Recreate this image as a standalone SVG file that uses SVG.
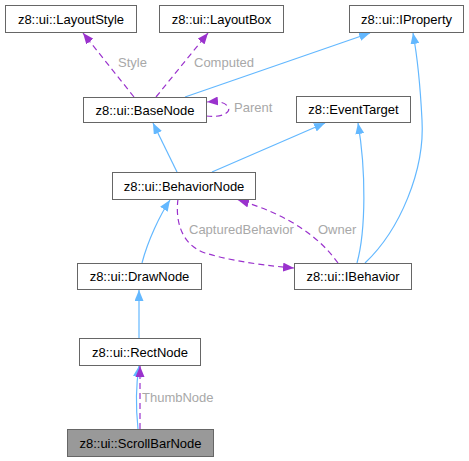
<svg xmlns="http://www.w3.org/2000/svg" width="469" height="461" viewBox="0 0 469 461">
<style>
.node rect{fill:#ffffff;stroke:#666666;stroke-width:1}
.node text{font-family:"Liberation Sans",Arial,sans-serif;font-size:13px;fill:#000000;text-anchor:middle}
.inh{fill:none;stroke:#63b8ff;stroke-width:1.2}
.use{fill:none;stroke:#9a32cd;stroke-width:1.2;stroke-dasharray:6,4}
.lbl{font-family:"Liberation Sans",Arial,sans-serif;font-size:13px;fill:#a8a8a8}
</style>
<defs>
<marker id="ab" viewBox="0 0 11 9" refX="11" refY="4.5" markerWidth="11" markerHeight="9" markerUnits="userSpaceOnUse" orient="auto"><path d="M0,0 L11,4.5 L0,9 z" fill="#63b8ff"/></marker>
<marker id="ap" viewBox="0 0 11 9" refX="11" refY="4.5" markerWidth="11" markerHeight="9" markerUnits="userSpaceOnUse" orient="auto"><path d="M0,0 L11,4.5 L0,9 z" fill="#9a32cd"/></marker>
</defs>
<rect width="469" height="461" fill="#ffffff"/>
<g id="edges">
<path class="use" d="M134,97 L83,33" marker-end="url(#ap)"/>
<text class="lbl" x="118" y="67">Style</text>
<path class="use" d="M156,97 L208,33" marker-end="url(#ap)"/>
<text class="lbl" x="194" y="67">Computed</text>
<path class="inh" d="M185,97 L370,33" marker-end="url(#ab)"/>
<path class="use" d="M206,116 C220,118 232,113 228,107 C225,102 218,101 207,102" marker-end="url(#ap)"/>
<text class="lbl" x="234" y="112">Parent</text>
<path class="inh" d="M177,172 L153,123" marker-end="url(#ab)"/>
<path class="inh" d="M212,172 L325,123" marker-end="url(#ab)"/>
<path class="inh" d="M142,263 C148,240 160,215 170,200" marker-end="url(#ab)"/>
<path class="use" d="M178,199 C175,222 182,245 205,253 C235,262 270,266 294,268" marker-end="url(#ap)"/>
<text class="lbl" x="189" y="234">CapturedBehavior</text>
<path class="use" d="M338,263 C320,238 290,215 238,200" marker-end="url(#ap)"/>
<text class="lbl" x="318" y="234">Owner</text>
<path class="inh" d="M357,263 C366,230 366,170 358,123" marker-end="url(#ab)"/>
<path class="inh" d="M365,263 C400,230 425,170 422,120 C420,80 417,55 413,33" marker-end="url(#ab)"/>
<path class="inh" d="M139,338 L139,290" marker-end="url(#ab)"/>
<path class="inh" d="M138,429 C136,410 136,385 139,366" marker-end="url(#ab)"/>
<path class="use" d="M140,429 L140,366" marker-end="url(#ap)"/>
<text class="lbl" x="142" y="402">ThumbNode</text>
</g>
<g id="LayoutStyle" class="node"><rect x="5.5" y="5.5" width="131" height="27"/><text x="71" y="23.5">z8::ui::LayoutStyle</text></g>
<g id="LayoutBox" class="node"><rect x="159.5" y="5.5" width="124" height="27"/><text x="221.5" y="23.5">z8::ui::LayoutBox</text></g>
<g id="IProperty" class="node"><rect x="349.5" y="5.5" width="114" height="27"/><text x="406.5" y="23.5">z8::ui::IProperty</text></g>
<g id="BaseNode" class="node"><rect x="83.5" y="97.5" width="123" height="25"/><text x="145" y="114.5">z8::ui::BaseNode</text></g>
<g id="EventTarget" class="node"><rect x="296.5" y="96.5" width="114" height="26"/><text x="353.5" y="114">z8::EventTarget</text></g>
<g id="BehaviorNode" class="node"><rect x="112.5" y="172.5" width="143" height="27"/><text x="184" y="190.5">z8::ui::BehaviorNode</text></g>
<g id="DrawNode" class="node"><rect x="77.5" y="263.5" width="124" height="26"/><text x="139.5" y="281">z8::ui::DrawNode</text></g>
<g id="IBehavior" class="node"><rect x="294.5" y="263.5" width="117" height="26"/><text x="353" y="281">z8::ui::IBehavior</text></g>
<g id="RectNode" class="node"><rect x="79.5" y="338.5" width="121" height="27"/><text x="140" y="356.5">z8::ui::RectNode</text></g>
<g id="ScrollBarNode" class="node"><rect x="67.5" y="429.5" width="146" height="27" style="fill:#999999"/><text x="140.5" y="447.5">z8::ui::ScrollBarNode</text></g>
</svg>
